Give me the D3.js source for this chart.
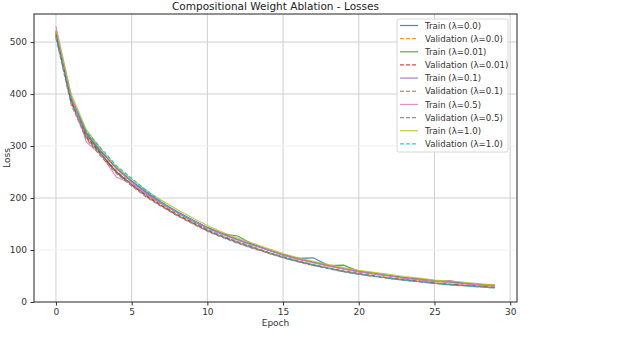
<!DOCTYPE html>
<html><head><meta charset="utf-8">
<script src="https://cdn.jsdelivr.net/npm/d3@7"></script>
<style>body{margin:0;background:#fff}svg{display:block}text{font-family:"DejaVu Sans",sans-serif}</style>
</head><body>
<script>
const epochs = d3.range(0, 30);
const seriesNames = ["Train (λ=0.0)","Validation (λ=0.0)","Train (λ=0.01)","Validation (λ=0.01)","Train (λ=0.1)","Validation (λ=0.1)","Train (λ=0.5)","Validation (λ=0.5)","Train (λ=1.0)","Validation (λ=1.0)"];
const colors = ["#1f77b4","#ff7f0e","#2ca02c","#d62728","#9467bd","#8c564b","#e377c2","#7f7f7f","#bcbd22","#17becf"];
const trainL00 = [512,390,322,288,258,233,211,191,174,158,143,131,120,110,101,91,84,85,70,64,59,55,51,47,44,41,39,36,34,32];
const valL00   = [515,388,320,285,252,228,205,186,169,154,139,127,116,106,96,87,79,72,66,60,55,51,47,43,40,37,34,32,30,28];
const trainL001= [520,392,326,284,250,226,207,189,172,157,143,131,127,111,100,90,83,77,70,71,59,55,51,47,44,40,38,36,34,32];
const valL001  = [517,386,318,283,250,226,204,185,168,153,138,126,115,105,95,86,78,71,65,59,54,50,46,43,40,36,34,32,30,28];
const trainL01 = [522,394,327,290,256,231,209,190,173,158,143,131,120,110,100,91,83,76,70,64,58,54,50,46,43,39,41,36,33,31];
const valL01   = [513,384,316,282,249,225,203,184,167,152,137,125,114,104,95,86,78,71,65,59,54,50,46,42,39,36,34,32,30,28];
const trainL05 = [530,398,308,282,240,228,207,189,172,157,142,130,119,109,100,90,82,75,69,63,58,54,50,46,43,40,37,35,33,31];
const valL05   = [508,380,314,279,247,223,201,183,166,151,136,124,113,103,94,85,77,70,64,58,53,49,45,42,39,36,33,31,29,27];
const trainL10 = [524,400,332,293,260,236,214,195,178,162,147,134,123,113,103,93,85,78,72,66,61,57,53,49,46,42,40,38,35,33];
const valL10   = [510,392,328,295,262,238,214,192,172,156,140,127,116,106,96,87,79,72,65,59,54,50,46,42,39,36,33,31,29,27];
const allSeries = [trainL00,valL00,trainL001,valL001,trainL01,valL01,trainL05,valL05,trainL10,valL10];
const xTicks = [0,5,10,15,20,25,30];
const yTicks = [0,100,200,300,400,500];

const W=640,H=358;
const L=34,R=517,T=14,B=302;
const svg=d3.select("body").append("svg").attr("width",W).attr("height",H);
const x=d3.scaleLinear().domain([-1.45,30.45]).range([L,R]);
const y=d3.scaleLinear().domain([0,554]).range([B,T]);

// grid
const g=svg.append("g");
g.selectAll(".gx").data(xTicks).join("line").attr("x1",d=>x(d)).attr("x2",d=>x(d)).attr("y1",T).attr("y2",B)
 .attr("stroke","#cfcfcf").attr("stroke-width",1);
g.selectAll(".gy").data(yTicks.filter(d=>d>0)).join("line").attr("y1",d=>y(d)).attr("y2",d=>y(d)).attr("x1",L).attr("x2",R)
 .attr("stroke",d=>(d===100||d===300)?"#f0f0f0":"#cfcfcf").attr("stroke-width",1);

// lines
const line=d3.line().x((d,i)=>x(epochs[i])).y(d=>y(d));
const plot=svg.append("g");
allSeries.forEach((s,k)=>{
  plot.append("path").datum(s).attr("d",line).attr("fill","none")
   .attr("stroke",colors[k]).attr("stroke-width",1.2).attr("stroke-opacity",0.85)
   .attr("stroke-dasharray",k%2===1?"4,2":null);
});

// axes
const xa=svg.append("g").attr("transform",`translate(0,${B})`).call(d3.axisBottom(x).tickValues(xTicks).tickSize(3.5).tickPadding(3.5));
const ya=svg.append("g").attr("transform",`translate(${L},0)`).call(d3.axisLeft(y).tickValues(yTicks).tickSize(3.5).tickPadding(3.5));
[xa,ya].forEach(a=>{a.select(".domain").remove();a.selectAll("text").attr("font-size",9).attr("fill","#333").attr("font-family","DejaVu Sans");a.selectAll("line").attr("stroke","#333");});
svg.append("rect").attr("x",L).attr("y",T).attr("width",R-L).attr("height",B-T).attr("fill","none").attr("stroke","#222").attr("stroke-width",1);

svg.append("text").attr("x",(L+R)/2).attr("y",10).attr("text-anchor","middle").attr("font-size",10.5).attr("fill","#222").text("Compositional Weight Ablation - Losses");
svg.append("text").attr("x",(L+R)/2).attr("y",326).attr("text-anchor","middle").attr("font-size",9).attr("fill","#333").text("Epoch");
svg.append("text").attr("transform",`translate(10,${(T+B)/2}) rotate(-90)`).attr("text-anchor","middle").attr("font-size",9).attr("fill","#333").text("Loss");

// legend
const lg=svg.append("g");
lg.append("rect").attr("x",397).attr("y",19).attr("width",111).attr("height",133).attr("rx",2)
 .attr("fill","#fff").attr("fill-opacity",0.85).attr("stroke","#d8d8d8");
seriesNames.forEach((n,k)=>{
  const yy=25.5+k*13.15;
  lg.append("line").attr("x1",400).attr("x2",418).attr("y1",yy).attr("y2",yy).attr("stroke",colors[k]).attr("stroke-width",1.2).attr("stroke-opacity",0.85)
    .attr("stroke-dasharray",k%2===1?"4,2":null);
  lg.append("text").attr("x",425).attr("y",yy+3.2).attr("font-size",8.6).attr("fill","#333").text(n);
});
</script>
</body></html>
